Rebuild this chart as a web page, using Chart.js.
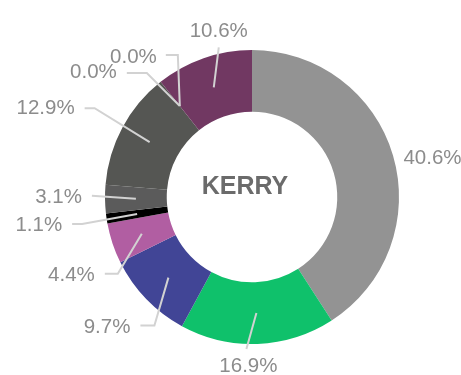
<!DOCTYPE html>
<html lang="en">
<head>
  <meta charset="UTF-8">
  <title>Kerry</title>
  <script src="https://cdn.jsdelivr.net/npm/chart.js"></script>
  <style>
    body {
      margin: 0;
      padding: 0;
      background: #ffffff;
    }

    .wrap {
      position: relative;
      width: 461px;
      height: 375px;
    }
  </style>
</head>
<body>
  <div class="wrap">
    <canvas id="kerryChart"></canvas>
  </div>

  <script>
    // Share of the vote, going clockwise from the top
    const parties = ["FG", "FF", "SF", "LAB", "GP", "SD", "IND", "PBP", "AON", "OTH"];
    const shares = [40.6, 16.9, 9.7, 4.4, 1.1, 3.1, 12.9, 0.0, 0.0, 10.6];
    const sliceColors = ["#939393", "#0fc16b", "#414596", "#b15ea2", "#000000",
                         "#5b5b5b", "#555653", "#4d4d4b", "#4d4d4b", "#713862"];
    const centerTitle = "KERRY";

    // Where each label sits relative to the middle of its slice:
    // bend = first segment, tail = horizontal run, text = offset from the line end
    const labelLayout = [
      { bend: [40, -6], tail: 0, text: [0, 0], align: "left", noLine: true },
      { bend: [-10, 36], tail: 0, text: [2, 17], align: "center" },
      { bend: [-14, 48], tail: -14, text: [-10, 2], align: "right" },
      { bend: [-24, 40], tail: -13, text: [-10, 2], align: "right" },
      { bend: [-55, 10], tail: -10, text: [-10, 1], align: "right" },
      { bend: [-44, -3], tail: 0, text: [-10, 2], align: "right" },
      { bend: [-55, -34], tail: -10, text: [-10, 0], align: "right" },
      { bend: [-33, -33], tail: -20, text: [-10, -1], align: "right" },
      { bend: [-2, -51], tail: -12, text: [-9, 2], align: "right" },
      { bend: [5, -40], tail: 0, text: [0, -16], align: "center" }
    ];

    const outLabels = {
      id: "outLabels",
      afterDatasetsDraw(chart) {
        const ctx = chart.ctx;
        const arcs = chart.getDatasetMeta(0).data;
        ctx.save();
        ctx.font = "20.5px 'Liberation Sans', Arial, sans-serif";
        ctx.textBaseline = "middle";
        arcs.forEach((arc, i) => {
          const p = arc.getProps(["x", "y", "startAngle", "endAngle", "innerRadius", "outerRadius"], true);
          const mid = (p.startAngle + p.endAngle) / 2;
          const r = (p.innerRadius + p.outerRadius) / 2;
          const ax = p.x + Math.cos(mid) * r;
          const ay = p.y + Math.sin(mid) * r;
          const lay = labelLayout[i];
          const bx = ax + lay.bend[0];
          const by = ay + lay.bend[1];
          const ex = bx + lay.tail;

          if (!lay.noLine) {
            ctx.strokeStyle = "#d2d2d2";
            ctx.lineWidth = 2;
            ctx.beginPath();
            ctx.moveTo(ax, ay);
            ctx.lineTo(bx, by);
            if (lay.tail) ctx.lineTo(ex, by);
            ctx.stroke();
          }

          ctx.fillStyle = "#8c8c8c";
          ctx.textAlign = lay.align;
          ctx.fillText(shares[i].toFixed(1) + "%", ex + lay.text[0], by + lay.text[1]);
        });

        // title in the hole
        const c = arcs[0];
        ctx.font = "bold 25px 'Liberation Sans', Arial, sans-serif";
        ctx.fillStyle = "#6b6b6b";
        ctx.textAlign = "center";
        ctx.fillText(centerTitle, c.x - 7, c.y - 10);
        ctx.restore();
      }
    };

    new Chart(document.getElementById("kerryChart"), {
      type: "doughnut",
      data: {
        labels: parties,
        datasets: [{
          data: shares,
          backgroundColor: sliceColors,
          borderWidth: 0
        }]
      },
      options: {
        responsive: true,
        maintainAspectRatio: false,
        animation: false,
        cutout: "58%",
        layout: {
          padding: { left: 105, right: 62, top: 50, bottom: 31 }
        },
        plugins: {
          legend: { display: false },
          tooltip: { enabled: false }
        }
      },
      plugins: [outLabels]
    });
  </script>
</body>
</html>
